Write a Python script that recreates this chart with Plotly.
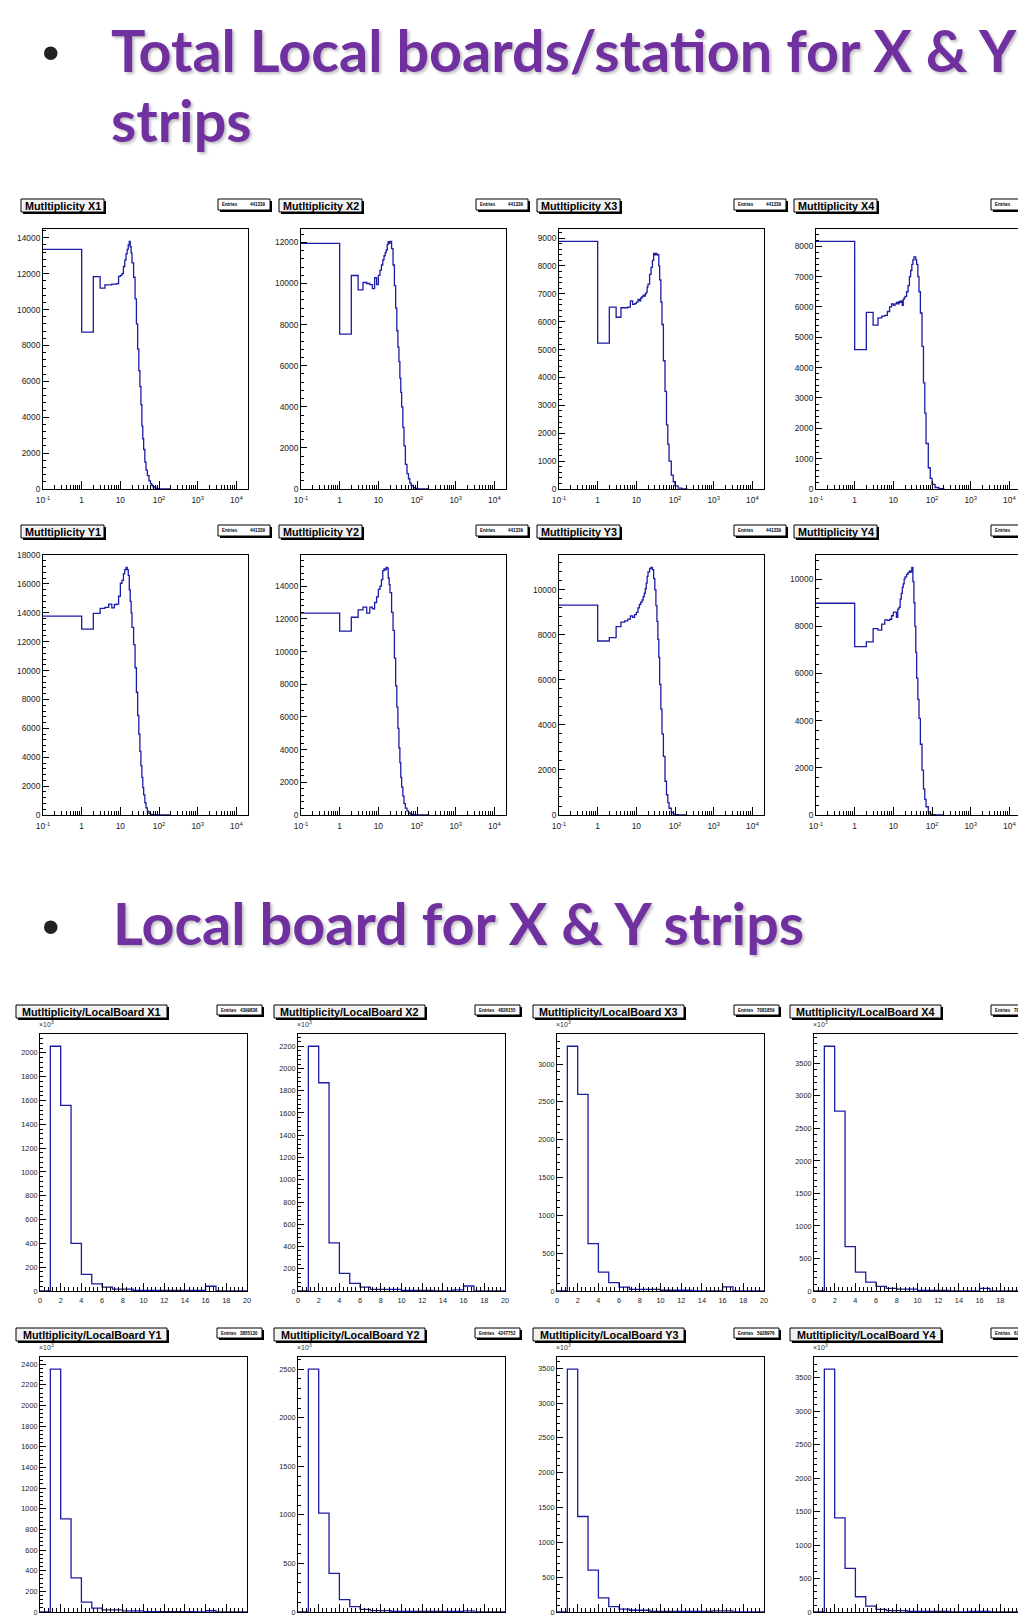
import plotly.graph_objects as go

W, H = 1018, 1618

# ---------------- data: total local boards / station (bins of multiplicity) ----------------
station_edges = list(range(0, 21)) + [22, 24, 26, 28, 30, 32, 34, 36, 38, 40,
                                      43, 46, 50, 55, 60, 65, 70, 80, 90, 100, 120, 150, 200]

mult_x1 = [13350, 8740, 11840, 11200, 11380, 11380, 11420, 11420, 11450, 11850,
           11900, 12000, 12400, 12750, 13100, 13350, 13600, 13800, 13500, 13150,
           12600, 11800, 10600, 9200, 7800, 6600, 5700, 4700, 3500, 2800,
           2200, 1500, 1050, 750, 450, 300, 200, 120, 50, 25, 8, 2, 0]
mult_x2 = [11950, 7540, 10390, 9690, 10050, 10000, 9950, 9750, 10280, 9950,
           10400, 10650, 10900, 11150, 11350, 11500, 11630, 11900, 12040, 11950,
           12050, 11700, 10900, 9900, 8800, 7700, 6900, 6200, 5400, 4700,
           4000, 3000, 2100, 1200, 750, 500, 300, 180, 70, 25, 8, 2, 0]
mult_x3 = [8880, 5230, 6520, 6160, 6500, 6500, 6520, 6750, 6620, 6650,
           6700, 6800, 6750, 6850, 6900, 6950, 6920, 7000, 7050, 7250,
           7350, 7700, 7950, 8200, 8450, 8400, 8450, 8400, 8400, 8000,
           7500, 6700, 5900, 4600, 3500, 2300, 1600, 1000, 500, 260, 110, 30, 8]
mult_x4 = [8160, 4590, 5820, 5400, 5640, 5700, 5720, 5850, 6000, 6100,
           6050, 6100, 6150, 6100, 6180, 6150, 6200, 6050, 6250, 6300,
           6350, 6500, 6700, 7000, 7200, 7400, 7550, 7650, 7650, 7550,
           7400, 7000, 6500, 5800, 4700, 3500, 2500, 1500, 700, 350, 150, 50, 10]
mult_y1 = [13780, 12880, 13960, 14310, 14380, 14610, 14350, 14580, 14600, 15150,
           16050, 16250, 16700, 17000, 17150, 17000, 16600, 15600, 14800, 14000,
           13000, 11800, 10200, 8500, 6900, 5600, 4400, 3400, 2600, 1900,
           1400, 850, 500, 250, 120, 50, 20, 5, 0, 0, 0, 0, 0]
mult_y2 = [12350, 11250, 12100, 12550, 12720, 12350, 12720, 12620, 13000, 13350,
           13800, 14000, 14400, 14950, 15050, 15000, 15150, 15100, 14500, 14100,
           13600, 12400, 11300, 9600, 7900, 6600, 5300, 4100, 3200, 2300,
           1700, 1150, 700, 420, 250, 150, 80, 35, 10, 3, 0, 0, 0]
mult_y3 = [9320, 7730, 7880, 8370, 8570, 8620, 8700, 8840, 8780, 8900,
           9000, 9200, 9350, 9450, 9550, 9700, 9850, 10050, 10300, 10600,
           10800, 10950, 11000, 10900, 10500, 10000, 9300, 8600, 7800, 7000,
           5800, 4700, 3600, 2600, 1500, 900, 550, 300, 120, 50, 15, 0, 0]
mult_y4 = [8980, 7140, 7340, 7900, 7840, 8090, 8270, 8250, 8300, 8450,
           8600, 8600, 8380, 8730, 8800, 9150, 9400, 9650, 9800, 10000,
           10100, 10200, 10280, 10350, 10300, 10500, 9900, 9000, 8000, 6900,
           5800, 4900, 4100, 3000, 1900, 1100, 660, 350, 120, 40, 10, 0, 0]

station_titles = ["Mutltiplicity X1", "Mutltiplicity X2", "Mutltiplicity X3", "Mutltiplicity X4",
                  "Mutltiplicity Y1", "Mutltiplicity Y2", "Mutltiplicity Y3", "Mutltiplicity Y4"]
station_entries = ["441339", "441339", "441339", "441339",
                   "441339", "441339", "441339", "441339"]
station_dtick = [2000, 2000, 1000, 1000, 2000, 2000, 2000, 2000]

# ---------------- data: multiplicity per local board (x10^3) ----------------
board_edges = list(range(0, 21))
board_x1 = [0, 2056, 1560, 400, 140, 60, 32, 15, 15, 5, 5, 5, 5, 5, 5, 5, 40, 0, 0, 0]
board_x2 = [0, 2200, 1872, 432, 158, 68, 34, 15, 15, 15, 5, 5, 5, 0, 0, 10, 45, 0, 0, 0]
board_x3 = [0, 3235, 2600, 625, 250, 110, 50, 22, 22, 22, 10, 10, 10, 0, 0, 0, 55, 0, 0, 0]
board_x4 = [0, 3764, 2767, 682, 290, 135, 70, 40, 30, 30, 10, 10, 10, 0, 0, 0, 40, 0, 0, 0]
board_y1 = [0, 2352, 902, 330, 96, 38, 20, 20, 10, 10, 3, 3, 3, 3, 3, 0, 12, 0, 0, 0]
board_y2 = [0, 2500, 1017, 397, 128, 56, 26, 15, 15, 5, 5, 5, 5, 5, 5, 5, 12, 0, 0, 0]
board_y3 = [0, 3486, 1371, 602, 203, 77, 40, 25, 25, 8, 8, 8, 8, 8, 8, 15, 15, 0, 0, 0]
board_y4 = [0, 3629, 1406, 653, 228, 89, 40, 22, 22, 10, 10, 10, 10, 0, 0, 10, 10, 0, 0, 0]

board_titles = ["Mutltiplicity/LocalBoard X1", "Mutltiplicity/LocalBoard X2",
                "Mutltiplicity/LocalBoard X3", "Mutltiplicity/LocalBoard X4",
                "Mutltiplicity/LocalBoard Y1", "Mutltiplicity/LocalBoard Y2",
                "Mutltiplicity/LocalBoard Y3", "Mutltiplicity/LocalBoard Y4"]
board_entries = ["4399836", "4826155", "7081859", "7878467",
                 "3855130", "4247752", "5928976", "6100214"]
board_dtick = [200, 200, 500, 500, 200, 500, 500, 500]

log_tickvals = [0.1, 1, 10, 100, 1000, 10000]
log_ticktext = ["10<sup>-1</sup>", "1", "10", "10<sup>2</sup>", "10<sup>3</sup>", "10<sup>4</sup>"]

heading1 = "Total Local boards/station for X &amp; Y"
heading1b = "strips"
heading2 = "Local board for X &amp; Y strips"

# ---------------- helpers (page pixel -> paper fraction) ----------------
def fx(p):
    return p / W

def fy(p):
    return 1 - p / H

def clampf(v):
    return min(1.0, max(0.0, v))

LINE = "#1c1ca6"
FONT = "Liberation Sans, Arial, Helvetica, sans-serif"

fig = go.Figure()
shapes = []
annotations = []

def add_box(x0, y0, x1, y1, fill, text_items):
    shapes.append(dict(type="rect", xref="paper", yref="paper",
                       x0=fx(x0 + 2), x1=fx(x1 + 2), y0=fy(y1 + 2), y1=fy(y0 + 2),
                       fillcolor="black", line=dict(width=0), layer="above"))
    shapes.append(dict(type="rect", xref="paper", yref="paper",
                       x0=fx(x0), x1=fx(x1), y0=fy(y1), y1=fy(y0),
                       fillcolor=fill, line=dict(color="black", width=1), layer="above"))
    annotations.extend(text_items)

station_data = [mult_x1, mult_x2, mult_x3, mult_x4, mult_y1, mult_y2, mult_y3, mult_y4]
board_data = [board_x1, board_x2, board_x3, board_x4, board_y1, board_y2, board_y3, board_y4]

st_lefts = [43, 301, 559, 816]
st_rows = [(229, 489), (555, 815)]
bd_lefts = [40, 298, 557, 814]
bd_rows = [(1034, 1291), (1357, 1612)]

k = 0
for kind in ("station", "board"):
    for i in range(8):
        r, c = divmod(i, 4)
        k += 1
        xn = "x" if k == 1 else f"x{k}"
        yn = "y" if k == 1 else f"y{k}"
        xl = "xaxis" if k == 1 else f"xaxis{k}"
        yl = "yaxis" if k == 1 else f"yaxis{k}"
        if kind == "station":
            left = st_lefts[c]; top, bot = st_rows[r]; width = 205
            vals = station_data[i]; edges = station_edges
            title = station_titles[i]; entries = station_entries[i]; dtick = station_dtick[i]
        else:
            left = bd_lefts[c]; top, bot = bd_rows[r]; width = 207
            vals = board_data[i]; edges = board_edges
            title = board_titles[i]; entries = board_entries[i]; dtick = board_dtick[i]
        right = min(left + width, W)
        frac = (right - left) / width

        xs = [max(e, 0.03) for e in edges] if kind == "station" else list(edges)
        ys = list(vals) + [0]
        fig.add_trace(go.Scatter(x=xs, y=ys, xaxis=xn, yaxis=yn, mode="lines",
                                 line=dict(shape="hv", color=LINE, width=1.3),
                                 hoverinfo="skip", showlegend=False))

        tsize = 8.4 if kind == "station" else 7.3
        xa = dict(domain=[clampf(fx(left)), clampf(fx(right))], anchor=yn, showline=True,
                  linecolor="black", linewidth=1, mirror=True, ticks="inside",
                  tickcolor="black", tickwidth=1, showgrid=False, zeroline=False,
                  automargin=False, fixedrange=True,
                  tickfont=dict(family=FONT, size=tsize, color="#222"))
        if kind == "station":
            minor_vals = [m * 10 ** e for e in range(-1, 5) for m in range(2, 10)]
            xa.update(type="log", range=[-1, -1 + 5.3 * frac], tickmode="array",
                      tickvals=log_tickvals, ticktext=log_ticktext, ticklen=8,
                      ticklabelstandoff=3,
                      minor=dict(tickmode="array", tickvals=minor_vals, ticks="inside",
                                 ticklen=4, tickcolor="black", showgrid=False))
        else:
            xa.update(type="linear", range=[0, 20 * frac], tick0=0, dtick=2, ticklen=8,
                      ticklabelstandoff=2,
                      minor=dict(dtick=0.4, ticks="inside", ticklen=4, tickcolor="black",
                                 showgrid=False))
        ya = dict(domain=[clampf(fy(bot)), clampf(fy(top))], anchor=xn, showline=True,
                  linecolor="black", linewidth=1, mirror=(c < 3), ticks="inside",
                  tickcolor="black", ticklen=6, showgrid=False, zeroline=False,
                  automargin=False, fixedrange=True, range=[0, 1.05 * max(vals)],
                  tick0=0, dtick=dtick, tickformat="d",
                  tickfont=dict(family=FONT, size=tsize, color="#222"),
                  minor=dict(dtick=dtick / 5, ticks="inside", ticklen=3, tickcolor="black",
                             showgrid=False))
        fig.update_layout(**{xl: xa, yl: ya})

        if kind == "station":
            tx0, tw, th = left - 22, 83, 13
            ex0, ew, eh = left + 175, 52, 11
            ty0 = top - 30
        else:
            tx0, tw, th = left - 24, 151, 13
            ex0, ew, eh = left + 177, 45, 10
            ty0 = top - 29
        add_box(tx0, ty0, tx0 + tw, ty0 + th, "#f2f2f2", [
            dict(x=fx(tx0 + tw / 2), y=fy(ty0 + th / 2 + 0.5), xref="paper", yref="paper",
                 text=f"<b>{title}</b>", showarrow=False, xanchor="center", yanchor="middle",
                 font=dict(family=FONT, size=10.8, color="black"))])
        add_box(ex0, ty0, ex0 + ew, ty0 + eh, "white", [
            dict(x=fx(ex0 + 2), y=fy(ty0 + eh / 2), xref="paper", yref="paper",
                 text="<b>Entries</b>", showarrow=False, xanchor="left", yanchor="middle",
                 font=dict(family=FONT, size=4.5, color="black")),
            dict(x=fx(ex0 + ew - 2), y=fy(ty0 + eh / 2), xref="paper", yref="paper",
                 text=f"<b>{entries}</b>", showarrow=False, xanchor="right", yanchor="middle",
                 font=dict(family=FONT, size=4.5, color="black"))])
        if kind == "board":
            annotations.append(dict(x=fx(left - 3), y=fy(top - 4), xref="paper", yref="paper",
                                    text="\u00d710<sup>3</sup>", showarrow=False,
                                    xanchor="left", yanchor="bottom",
                                    font=dict(family=FONT, size=7, color="#333")))

# headings
PURPLE = "#7030A0"
HFONT = "Lato, Calibri, Carlito, sans-serif"
for txt, x, y in [(heading1, 109, 50), (heading1b, 109, 120), (heading2, 111, 923)]:
    annotations.append(dict(x=fx(x), y=fy(y), xref="paper", yref="paper", text=f"<b>{txt}</b>",
                            showarrow=False, xanchor="left", yanchor="middle",
                            font=dict(family=HFONT, size=57.5, color=PURPLE,
                                      shadow="2px 2px 3px rgba(0,0,0,0.25)")))
for y in (53, 927):
    annotations.append(dict(x=fx(51), y=fy(y), xref="paper", yref="paper", text="\u2022",
                            showarrow=False, xanchor="center", yanchor="middle",
                            font=dict(family="Arial, Liberation Sans", size=50, color="#222")))

fig.update_layout(width=W, height=H, margin=dict(l=0, r=0, t=0, b=0, pad=0, autoexpand=False),
                  paper_bgcolor="white", plot_bgcolor="white", showlegend=False,
                  shapes=shapes, annotations=annotations)

fig.write_html("out.html", config={"displayModeBar": False, "staticPlot": True},
               post_script="document.body.style.margin='0px';")
